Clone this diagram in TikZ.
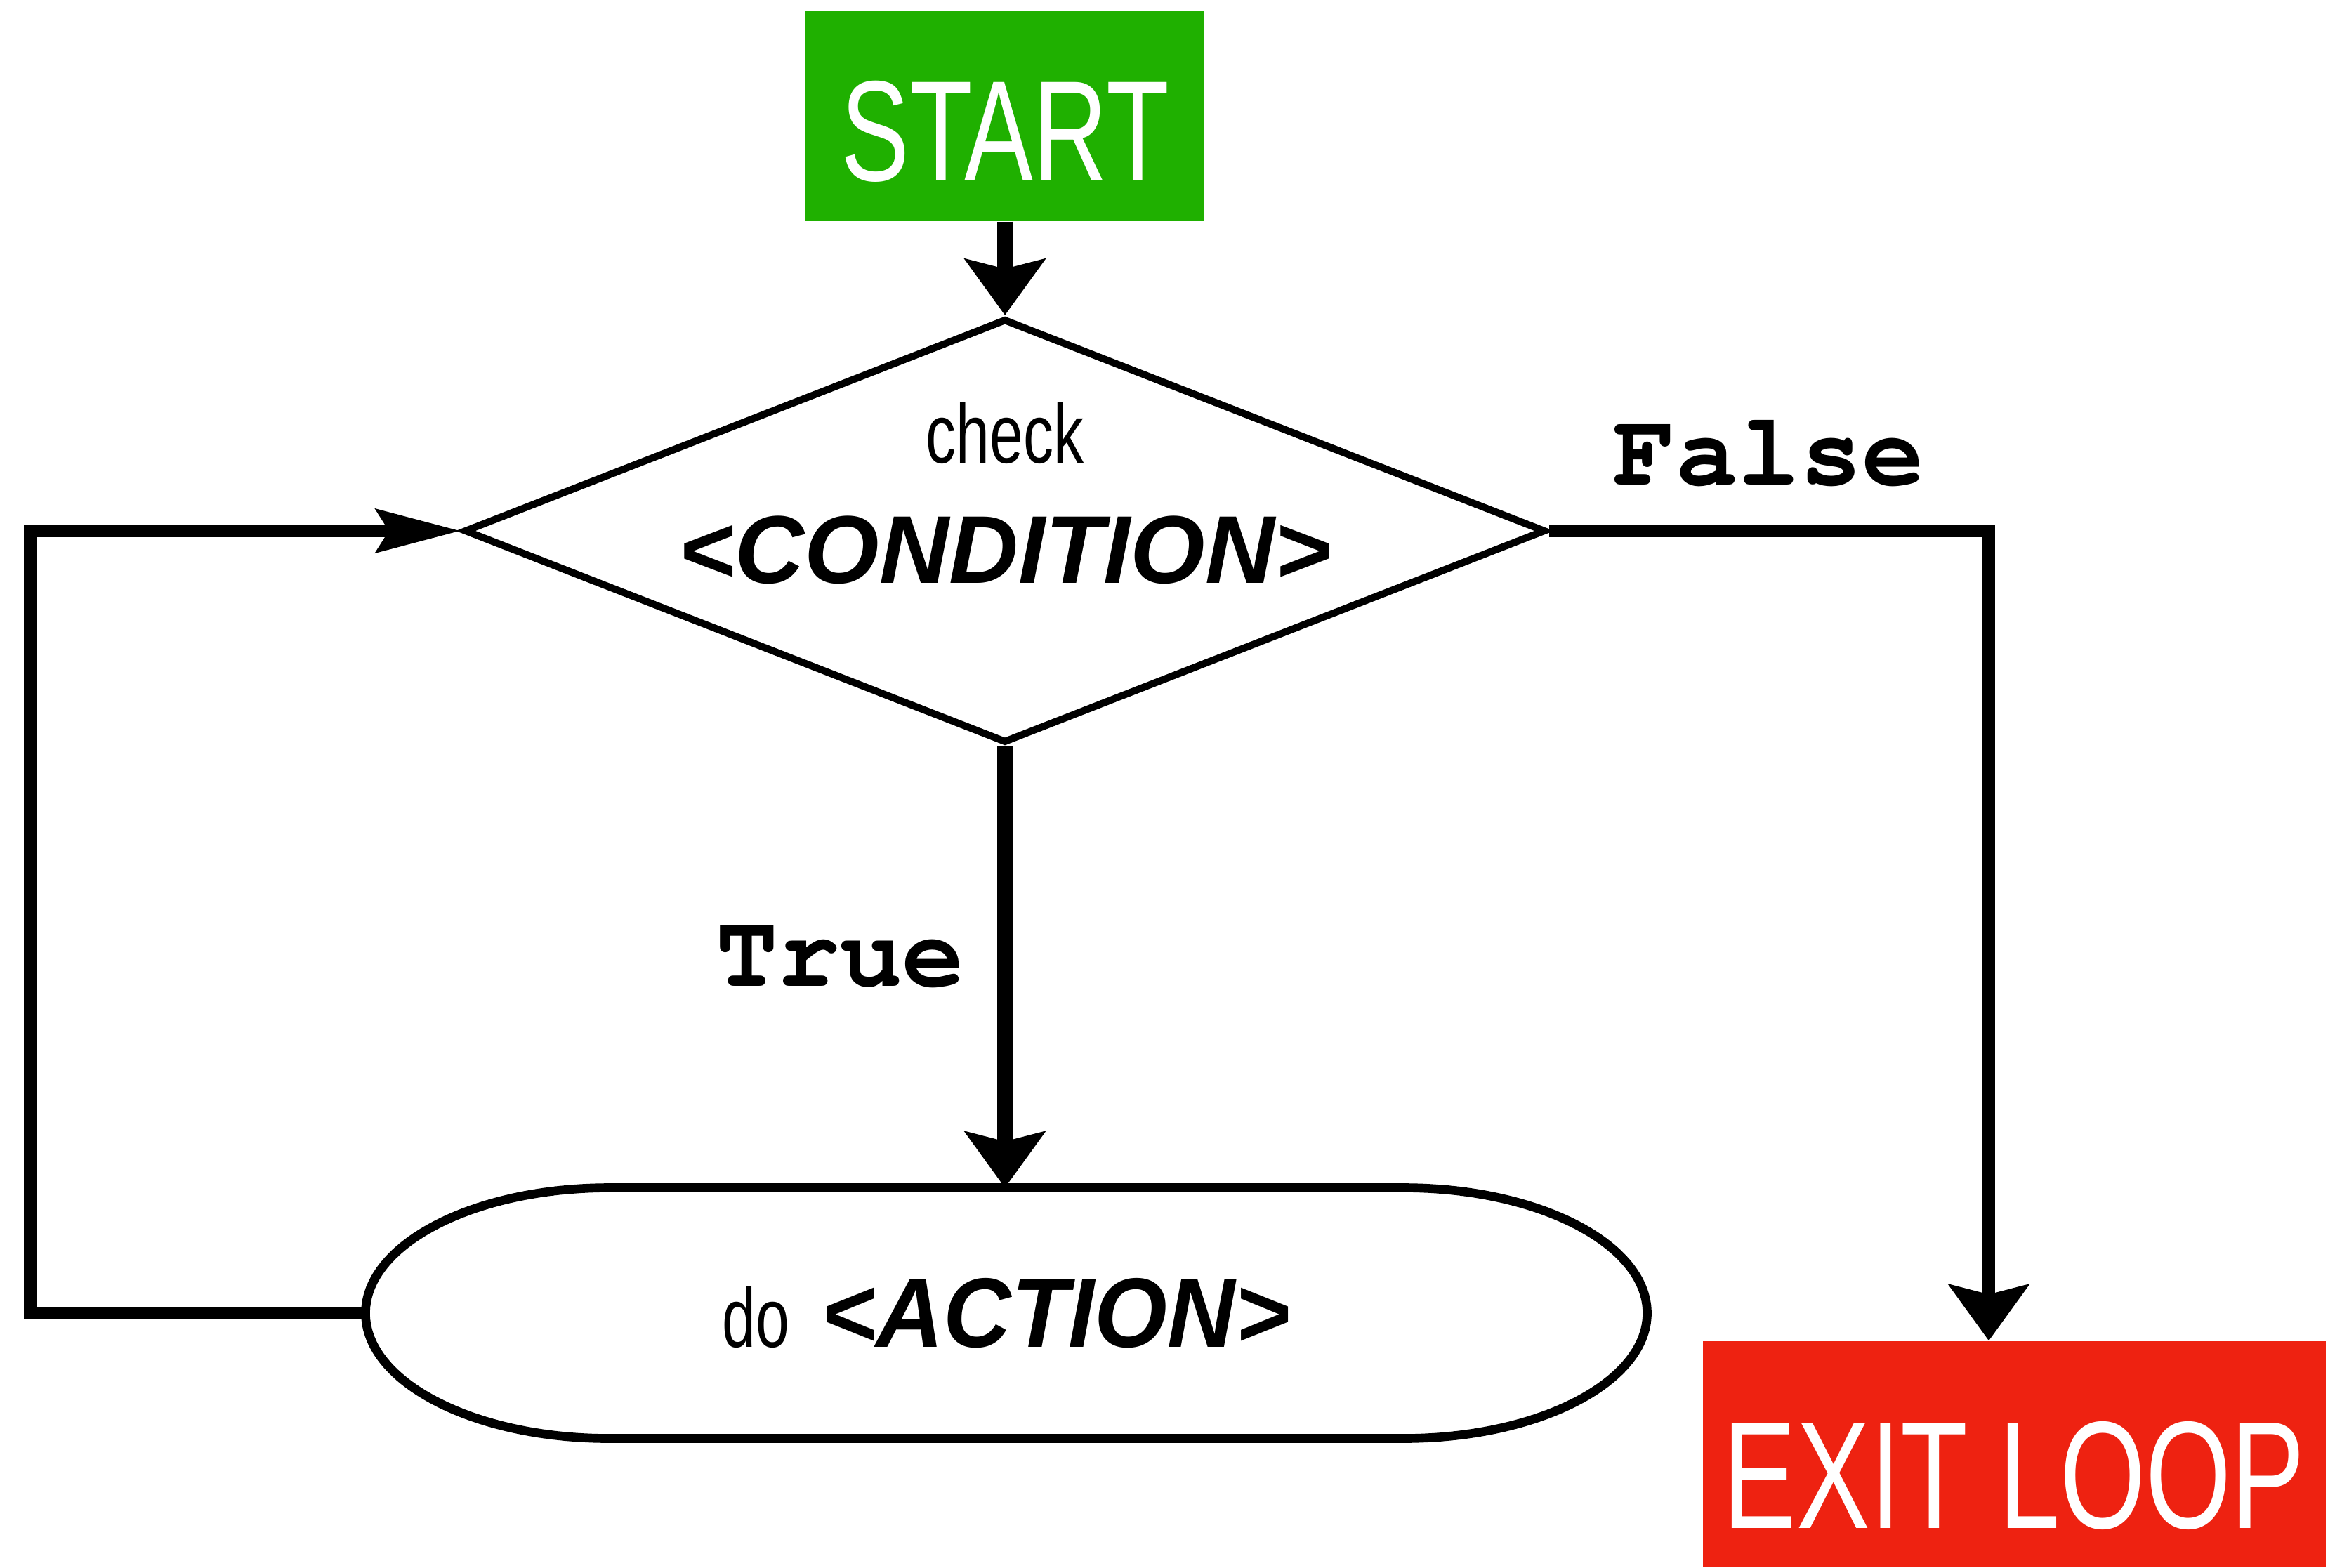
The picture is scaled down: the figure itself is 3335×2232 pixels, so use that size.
\documentclass[tikz,border=0pt]{standalone}
\usepackage[T1]{fontenc}
\usepackage{fontspec}
\usetikzlibrary{arrows.meta,shapes.geometric}
\newfontfamily\condfont[FakeStretch=0.72]{Liberation Sans}
\newfontfamily\tagfont[FakeStretch=0.95]{Liberation Sans}
\newfontfamily\widetagfont{Liberation Sans}
\newcommand\codefont{\fontencoding{T1}\fontfamily{pcr}\fontseries{b}}
\definecolor{startgreen}{HTML}{1FB000}
\definecolor{exitred}{HTML}{EE2211}
\begin{document}
\begin{tikzpicture}[x=0.1mm,y=-0.1mm,
  termbox/.style={fill=#1,text=white,inner sep=0pt,text depth=0pt},
  decision/.style={diamond,draw,line width=2.9pt,minimum width=154mm,minimum height=60.4mm,inner sep=0pt},
  heavy/.style={line width=6.2pt,-{Stealth[length=8mm,width=11.4mm,inset=1.4mm]}},
  backline/.style={line width=5pt,-{Stealth[length=12mm,width=6.1mm,inset=1.8mm]}},
  codelabel/.style={font=\codefont\fontsize{42}{48}\selectfont}]
\useasboundingbox (0,0) rectangle (3335,2232);
% boxes
\node[termbox=startgreen,minimum width=56.8mm,minimum height=30mm,text height=18.4mm,
  font=\condfont\fontsize{58}{64}\selectfont] (start) at (1431,165) {START};
\node[decision] (cond) at (1431,756) {};
\node[font=\condfont\fontsize{34}{40}\selectfont] (check) at (1431,617) {check};
\node[font=\widetagfont\bfseries\itshape\fontsize{39}{44}\selectfont] (condtext) at (1431,783) {<CONDITION>};
\node[minimum width=182.5mm,minimum height=35.7mm,inner sep=0pt,outer sep=0pt] (act) at (1433,1870)
  {{\condfont\fontsize{34}{40}\selectfont do}\hspace{4.5mm}{\tagfont\bfseries\itshape\fontsize{40}{46}\selectfont <ACTION>}};
\draw[line width=3.6pt] ([xshift=34.7mm]act.north west) -- ([xshift=-34.7mm]act.north east)
  arc[start angle=90,end angle=-90,x radius=34.7mm,y radius=17.85mm]
  -- ([xshift=34.7mm]act.south west)
  arc[start angle=270,end angle=90,x radius=34.7mm,y radius=17.85mm] -- cycle;
\node[termbox=exitred,minimum width=88.7mm,minimum height=32.2mm,text height=21mm,
  font=\condfont\fontsize{62}{70}\selectfont] (exit) at (2868,2071) {EXIT LOOP};
% connectors
\coordinate (back) at (43,1870);
\coordinate (turn) at (2832,756);
\draw[heavy] (start.south) -- (cond.north);
\draw[heavy] (cond.south) -- (cond.south |- act.north) node[pos=0.48,left=3.5mm,codelabel] (yes) {True};
\draw[backline] (act.west) -- (back) |- (cond.west);
\draw[heavy,line width=5pt] (cond.east) -- (turn) node[midway,above=4.2mm,codelabel] (no) {False} -- (turn |- exit.north);
\end{tikzpicture}
\end{document}
